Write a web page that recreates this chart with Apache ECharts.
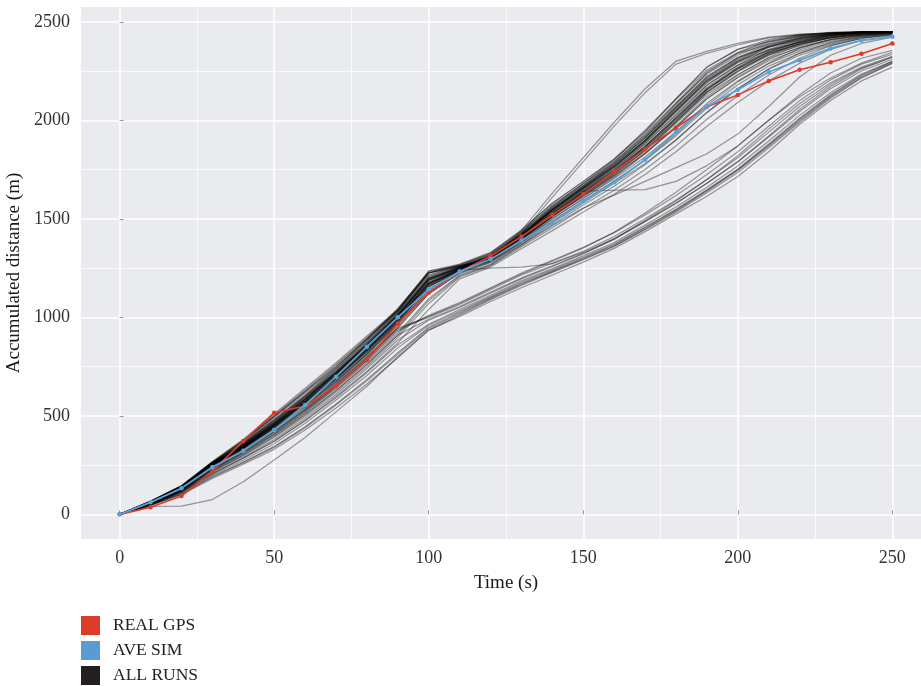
<!DOCTYPE html>
<html>
<head>
<meta charset="utf-8">
<script src="https://cdn.jsdelivr.net/npm/echarts@6/dist/echarts.min.js"></script>
<style>
html,body{margin:0;padding:0;background:#fff;}
#chart{width:921px;height:686px;}
</style>
</head>
<body>
<div id="chart"></div>
<script>
// ---- data ----
const times = [0,10,20,30,40,50,60,70,80,90,100,110,120,130,140,150,160,170,180,190,200,210,220,230,240,250];
const xTickValues = [0,50,100,150,200,250];
const yTickValues = [0,500,1000,1500,2000,2500];
const legendNames = ['REAL GPS','AVE SIM','ALL RUNS'];

const realGps = [0,36,93,220,372,516,550,650,784,968,1126,1232,1310,1410,1520,1625,1740,1854,1962,2069,2129,2200,2257,2295,2338,2390];
const aveSim  = [0,61,132,240,323,428,555,699,851,1000,1142,1232,1295,1390,1480,1590,1685,1800,1940,2070,2155,2245,2305,2365,2405,2424];

// core band runs
const runC1  = [0,62,138,258,350,462,585,722,865,1020,1200,1255,1310,1425,1550,1660,1770,1900,2060,2210,2310,2380,2420,2440,2448,2450];
const runC2  = [0,58,132,250,340,448,566,700,840,995,1170,1240,1295,1400,1520,1630,1735,1860,2005,2155,2260,2345,2400,2432,2446,2450];
const runC3  = [0,61,136,257,348,458,580,716,858,1012,1190,1250,1305,1415,1540,1650,1760,1890,2045,2195,2295,2370,2415,2438,2447,2450];
const runC4  = [0,59,134,252,342,450,570,705,845,1000,1175,1242,1298,1405,1525,1635,1740,1865,2012,2160,2265,2348,2398,2430,2445,2449];
const runC5  = [0,63,140,262,356,470,595,735,880,1035,1215,1262,1318,1435,1565,1675,1790,1925,2085,2235,2330,2395,2428,2443,2449,2450];
const runC6  = [0,57,130,246,335,440,556,688,826,980,1155,1235,1290,1395,1510,1618,1722,1845,1990,2140,2245,2330,2390,2425,2442,2448];
const runC7  = [0,60,135,255,346,456,576,712,853,1008,1185,1248,1302,1412,1535,1645,1752,1880,2030,2180,2280,2360,2408,2435,2446,2450];
const runC8  = [0,64,142,265,360,476,602,744,890,1045,1225,1268,1325,1445,1578,1690,1805,1945,2105,2255,2345,2405,2432,2445,2450,2450];
const runC9  = [0,56,128,242,330,432,548,678,815,968,1140,1230,1285,1388,1500,1605,1710,1830,1970,2120,2230,2320,2382,2420,2440,2447];
const runC10 = [0,60,136,256,347,457,578,714,856,1010,1188,1249,1304,1418,1545,1655,1765,1895,2050,2200,2300,2372,2414,2437,2447,2450];
const runC11 = [0,62,139,260,352,465,588,726,870,1025,1205,1258,1312,1428,1555,1668,1780,1910,2070,2220,2318,2388,2424,2441,2448,2450];
const runC12 = [0,59,133,251,341,452,572,707,848,1002,1178,1244,1299,1408,1528,1638,1744,1868,2018,2168,2270,2352,2402,2432,2445,2450];
const runC13 = [0,61,137,258,349,460,583,720,862,1016,1195,1252,1308,1420,1545,1658,1768,1898,2055,2205,2305,2376,2418,2439,2447,2450];
const runC14 = [0,58,131,248,338,445,562,695,834,988,1162,1238,1293,1398,1515,1622,1728,1850,1995,2145,2250,2338,2394,2428,2444,2449];
const runK1  = [0,52,120,235,320,420,530,650,790,950,1120,1225,1280,1370,1480,1580,1680,1780,1900,2040,2160,2260,2330,2380,2415,2435];
const runK2  = [0,54,123,238,326,428,540,660,800,958,1132,1230,1285,1378,1490,1592,1693,1797,1922,2062,2180,2275,2340,2386,2418,2437];
const runK3  = [0,55,125,241,331,436,548,670,810,968,1143,1234,1290,1384,1500,1602,1705,1814,1942,2086,2200,2288,2350,2392,2422,2440];
const runK4  = [0,56,128,244,335,444,557,678,818,977,1155,1238,1295,1391,1510,1613,1716,1831,1963,2109,2216,2302,2358,2400,2426,2442];
const runK5  = [0,58,130,247,340,452,566,688,828,986,1166,1243,1300,1398,1520,1624,1728,1848,1984,2132,2232,2316,2368,2406,2430,2444];
const runK6  = [0,59,133,250,345,460,575,698,838,995,1178,1247,1305,1405,1530,1635,1740,1865,2005,2155,2260,2330,2378,2410,2432,2445];
const runK7  = [0,60,135,253,350,468,584,707,847,1004,1189,1252,1310,1412,1540,1646,1752,1882,2026,2178,2280,2344,2388,2418,2436,2446];
const runK8  = [0,62,138,256,355,476,593,716,856,1013,1201,1256,1315,1419,1550,1657,1764,1899,2047,2201,2300,2358,2396,2424,2440,2447];
const runK9  = [0,63,140,259,360,484,602,726,866,1022,1212,1261,1320,1426,1560,1668,1776,1916,2068,2224,2320,2372,2406,2430,2444,2448];
const runK10 = [0,65,143,262,365,492,611,735,875,1031,1224,1265,1325,1433,1570,1679,1788,1933,2089,2247,2340,2386,2416,2435,2446,2449];
const runK11 = [0,66,145,265,370,500,620,745,885,1040,1235,1270,1330,1440,1580,1690,1800,1950,2110,2270,2360,2400,2425,2440,2448,2450];
const runK12 = [0,60,136,252,338,440,552,672,812,975,1160,1240,1300,1410,1548,1660,1775,1910,2065,2215,2315,2375,2410,2432,2445,2450];
const runK13 = [0,64,141,260,362,480,598,720,858,1010,1195,1250,1302,1400,1515,1615,1718,1835,1965,2110,2220,2310,2370,2410,2432,2445];
const runK14 = [0,57,129,246,338,448,562,690,832,990,1172,1245,1308,1418,1545,1652,1760,1892,2040,2190,2292,2355,2395,2422,2440,2448];
const runK15 = [0,61,137,255,352,470,588,712,852,1008,1195,1254,1312,1415,1535,1640,1746,1870,2012,2160,2265,2340,2386,2418,2436,2447];
const runK16 = [0,58,131,248,342,455,570,694,834,992,1170,1244,1302,1402,1526,1630,1735,1858,1995,2145,2250,2335,2385,2418,2438,2447];
// upper spread and early-fast runs
const runW1 = [0,68,145,268,380,510,640,770,905,1040,1235,1262,1300,1420,1560,1680,1800,1940,2110,2270,2360,2410,2435,2446,2450,2450];
const runW2 = [0,66,142,262,372,495,622,750,888,1030,1225,1258,1296,1412,1548,1665,1785,1920,2080,2240,2340,2400,2430,2444,2449,2450];
const runU1 = [0,67,146,266,378,505,632,762,898,1035,1230,1262,1292,1440,1630,1810,1990,2160,2300,2350,2390,2422,2437,2443,2446,2448];
const runU2 = [0,65,143,263,374,498,626,756,892,1032,1226,1258,1288,1425,1610,1790,1970,2140,2285,2340,2382,2418,2434,2442,2446,2448];
// lower spread inside band
const runV1 = [0,52,120,225,310,405,515,640,772,920,1095,1215,1270,1370,1470,1570,1665,1775,1900,2040,2160,2260,2340,2395,2425,2440];
const runV2 = [0,50,116,215,298,390,498,620,750,898,1070,1205,1262,1358,1455,1552,1645,1750,1870,2005,2125,2230,2315,2378,2415,2435];
const runV3 = [0,54,124,232,318,418,530,658,792,945,1120,1222,1278,1380,1485,1588,1688,1800,1930,2075,2195,2290,2365,2410,2432,2444];
const runV4 = [0,48,112,205,285,372,478,598,725,870,1040,1195,1255,1348,1440,1535,1625,1725,1840,1970,2090,2200,2290,2360,2405,2430];
// slow group
const runLC = [0,40,42,75,166,276,390,520,650,800,935,1005,1080,1150,1215,1280,1350,1435,1525,1615,1715,1840,1980,2100,2200,2270];
const runL1 = [0,55,125,232,320,420,535,665,800,945,1000,1065,1140,1215,1275,1335,1410,1500,1595,1700,1810,1940,2070,2180,2265,2320];
const runL2 = [0,52,118,218,300,395,505,628,760,910,990,1055,1128,1200,1262,1325,1395,1485,1578,1680,1790,1915,2045,2160,2250,2310];
const runL3 = [0,50,112,205,285,370,475,592,720,860,965,1040,1112,1185,1248,1312,1380,1468,1560,1660,1768,1895,2025,2140,2235,2300];
const runL4 = [0,47,105,192,265,345,445,560,685,820,950,1025,1100,1172,1236,1300,1368,1455,1545,1645,1750,1875,2005,2125,2225,2295];
const runL5 = [0,53,120,225,310,408,520,645,780,930,1010,1075,1150,1225,1290,1355,1430,1520,1618,1725,1840,1970,2100,2205,2285,2335];
const runL6 = [0,45,100,182,255,330,428,540,662,795,935,1012,1090,1162,1228,1292,1360,1445,1535,1632,1735,1860,1990,2112,2215,2288];
const runL7 = [0,50,114,210,290,380,488,608,740,885,985,1050,1122,1195,1258,1322,1398,1492,1590,1700,1820,1955,2085,2190,2270,2325];
const runL8 = [0,46,102,188,262,340,440,555,678,812,945,1018,1095,1168,1232,1296,1362,1448,1540,1640,1745,1868,1998,2118,2218,2290];
const runL9 = [0,54,122,228,315,412,525,650,785,938,1005,1070,1146,1220,1285,1352,1432,1530,1635,1750,1870,2000,2120,2215,2290,2345];
const runL10 = [0,48,108,198,275,358,462,580,705,845,960,1032,1105,1178,1242,1305,1372,1458,1548,1648,1752,1880,2010,2130,2230,2300];
const runD1 = [0,58,132,250,340,448,566,700,840,995,1170,1240,1250,1255,1272,1330,1400,1488,1580,1680,1790,1920,2055,2170,2260,2320];
const runF1 = [0,57,130,246,335,440,556,688,826,980,1155,1235,1290,1395,1510,1640,1645,1648,1690,1770,1870,2000,2130,2240,2315,2355];
const runS1 = [0,52,118,220,305,400,508,630,762,910,1085,1210,1265,1365,1465,1555,1620,1690,1760,1830,1930,2070,2220,2330,2390,2422];

const allRuns = [runC1,runC2,runC3,runC4,runC5,runC6,runC7,runC8,runC9,runC10,runC11,runC12,runC13,runC14,
  runK1,runK2,runK3,runK4,runK5,runK6,runK7,runK8,runK9,runK10,runK11,runK12,runK13,runK14,runK15,runK16,
  runW1,runW2,runU1,runU2,runV1,runV2,runV3,runV4,
  runLC,runL1,runL2,runL3,runL4,runL5,runL6,runL7,runL8,runL9,runL10,runD1,runF1,runS1];

// ---- chart ----
const pair = arr => arr.map((v, i) => [times[i], v]);
const T = 'rgba(0,0,0,0)';
const serif = '"Liberation Serif", "DejaVu Serif", serif';
const RED = '#DD3B29', BLUE = '#56A3DC', BLACK = '#231F20';

const series = [];
allRuns.forEach(r => {
  series.push({
    name: 'ALL RUNS', type: 'line', data: pair(r), symbol: 'none', silent: true,
    xAxisIndex: 0, yAxisIndex: 0,
    lineStyle: { color: 'rgba(0,0,0,0.38)', width: 1.2 },
    itemStyle: { color: BLACK }, z: 2
  });
});
series.push({
  name: 'REAL GPS', type: 'line', data: pair(realGps), symbol: 'circle', symbolSize: 4.5,
  lineStyle: { color: RED, width: 1.6 }, itemStyle: { color: RED }, z: 3
});
series.push({
  name: 'AVE SIM', type: 'line', data: pair(aveSim), symbol: 'circle', symbolSize: 4.5,
  lineStyle: { color: BLUE, width: 1.8 }, itemStyle: { color: BLUE }, z: 4
});

function xAx(extra) {
  return Object.assign({
    type: 'value', min: -12.5, max: 262.5, interval: 12.5, gridIndex: 0,
    axisLine: { show: false }, axisTick: { show: false },
    axisLabel: { show: false }, splitLine: { show: false }
  }, extra);
}
function yAx(extra) {
  return Object.assign({
    type: 'value', min: -125, max: 2575, interval: 125, gridIndex: 0,
    axisLine: { show: false }, axisTick: { show: false },
    axisLabel: { show: false }, splitLine: { show: false }
  }, extra);
}

const option = {
  animation: false,
  backgroundColor: '#ffffff',
  grid: { left: 81, top: 7, width: 850, height: 532, show: true, backgroundColor: '#EAEBEE', borderWidth: 0,
    containLabel: false, outerBoundsMode: 'none' },
  legend: {
    orient: 'vertical', left: 81, top: 616, padding: 0, icon: 'rect', itemWidth: 19, itemHeight: 19, itemGap: 6,
    data: [
      { name: legendNames[0], itemStyle: { color: RED } },
      { name: legendNames[1], itemStyle: { color: '#5B9BD5' } },
      { name: legendNames[2], itemStyle: { color: BLACK, opacity: 1 } }
    ],
    textStyle: { fontFamily: serif, fontSize: 17.5, color: '#222', padding: [0,0,0,8] },
    selectedMode: false
  },
  xAxis: [
    xAx({
      name: 'Time (s)', nameLocation: 'middle', nameGap: 35,
      nameTextStyle: { fontFamily: serif, fontSize: 19, color: '#1a1a1a' },
      axisLabel: { show: true, margin: 10, fontFamily: serif, fontSize: 18, color: '#333',
        formatter: v => xTickValues.includes(v) ? String(v) : '' },
      splitLine: { show: true, lineStyle: { color: [T, '#ffffff', T, T], width: 1.6 } }
    }),
    xAx({ splitLine: { show: true, lineStyle: { color: [T, T, T, '#ffffff'], width: 0.8 } } }),
    xAx({ axisTick: { show: true, length: 4, customValues: xTickValues, lineStyle: { color: '#999', width: 1 } } })
  ],
  yAxis: [
    yAx({
      name: 'Accumulated distance (m)', nameLocation: 'middle', nameGap: 57, nameRotate: 90,
      nameTextStyle: { fontFamily: serif, fontSize: 19, color: '#1a1a1a' },
      axisLabel: { show: true, margin: 11, fontFamily: serif, fontSize: 18, color: '#333',
        formatter: v => yTickValues.includes(v) ? String(v) : '' },
      splitLine: { show: true, lineStyle: { color: [T, '#ffffff', T, T], width: 1.6 } }
    }),
    yAx({ splitLine: { show: true, lineStyle: { color: [T, T, T, '#ffffff'], width: 0.8 } } }),
    yAx({ axisTick: { show: true, length: 4, customValues: yTickValues, lineStyle: { color: '#999', width: 1 } } })
  ],
  series: series
};

const chart = echarts.init(document.getElementById('chart'), null, { renderer: 'canvas' });
chart.setOption(option);
</script>
</body>
</html>
